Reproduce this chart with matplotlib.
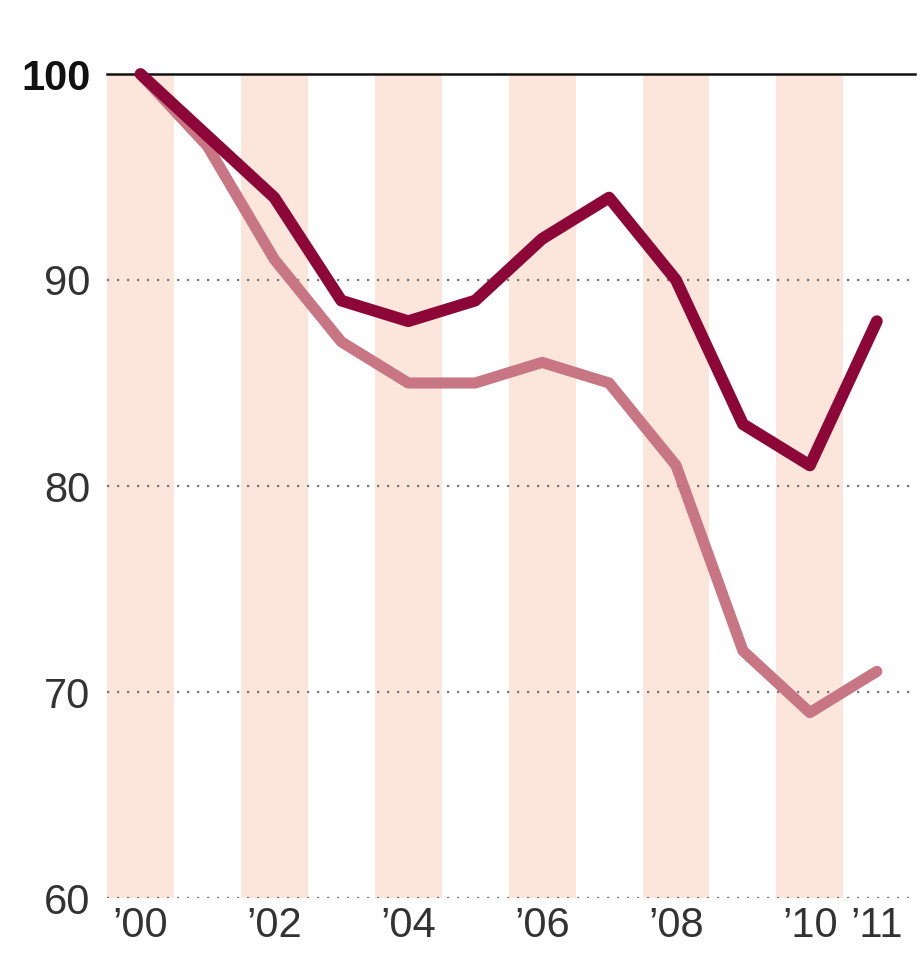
import matplotlib
matplotlib.use("Agg")
import matplotlib.pyplot as plt
from matplotlib import font_manager

years = [2000, 2001, 2002, 2003, 2004, 2005, 2006, 2007, 2008, 2009, 2010, 2011]
dark_series = [100, 97, 94, 89, 88, 89, 92, 94, 90, 83, 81, 88]
light_series = [100, 96.5, 91, 87, 85, 85, 86, 85, 81, 72, 69, 71]
band_years = [2000, 2002, 2004, 2006, 2008, 2010]
xtick_years = [2000, 2002, 2004, 2006, 2008, 2010, 2011]
xtick_labels = ["\u201900", "\u201902", "\u201904", "\u201906", "\u201908", "\u201910", "\u201911"]
ytick_values = [60, 70, 80, 90, 100]
ytick_labels = ["60", "70", "80", "90", "100"]

names = {f.name for f in font_manager.fontManager.ttflist}
fam = "Liberation Sans Narrow" if "Liberation Sans Narrow" in names else "Liberation Sans"
plt.rcParams["font.family"] = [fam, "DejaVu Sans"]

fig = plt.figure(figsize=(9.22, 9.59), dpi=100)
ax = fig.add_axes([107/922, 1-898/959, (915-107)/922, (898-74)/959])

ax.set_xlim(1999.5, 2011.57)
ax.set_ylim(60, 100)

for y in band_years:
    ax.axvspan(y - 0.5, y + 0.5, color="#fce5da", lw=0, zorder=0)

for v in [60, 70, 80, 90]:
    ax.axhline(v, color="#777777", lw=1.6, ls=(0, (1, 3.5)), zorder=1)
ax.axhline(100, color="#111111", lw=1.8, zorder=1, clip_on=False)

ax.plot(years, light_series, color="#c87684", lw=8, solid_capstyle="round",
        solid_joinstyle="round", zorder=2, clip_on=False)
ax.plot(years, dark_series, color="#8c0738", lw=8.5, solid_capstyle="round",
        solid_joinstyle="round", zorder=3, clip_on=False)

for s in ax.spines.values():
    s.set_visible(False)

ax.set_xticks(xtick_years)
ax.set_xticklabels(xtick_labels, fontsize=30, color="#333333")
ax.set_yticks(ytick_values)
ax.set_yticklabels(ytick_labels, fontsize=30, color="#333333")
ax.tick_params(length=0)
ax.tick_params(axis="x", pad=6)
ax.tick_params(axis="y", pad=12)
for lab in ax.get_yticklabels():
    if lab.get_text() == "100":
        lab.set_fontweight("bold")
        lab.set_color("#111111")

fig.savefig("out.png", dpi=100)
